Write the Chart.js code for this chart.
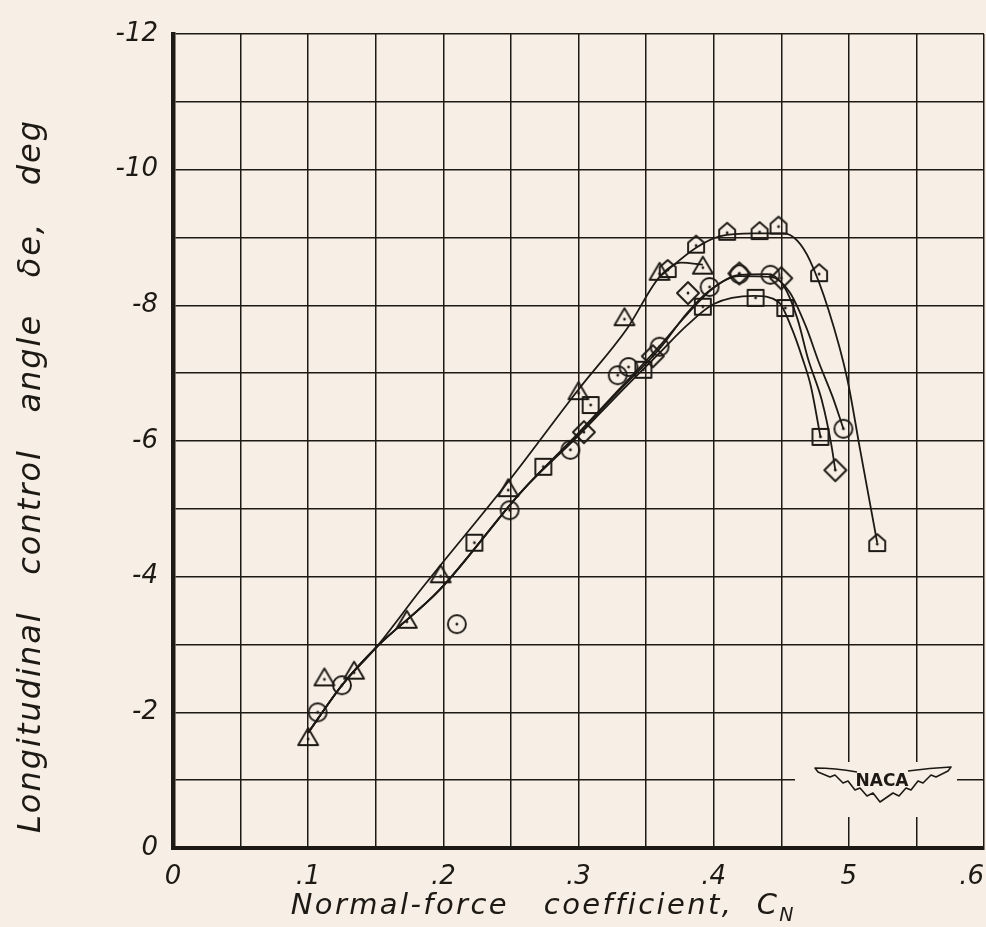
<!DOCTYPE html>
<html>
<head>
<meta charset="utf-8">
<script src="https://cdn.jsdelivr.net/npm/chart.js@4.4.1/dist/chart.umd.min.js"></script>
<style>
  html, body { margin: 0; padding: 0; background: #f7efe5; }
  #chart { display: block; }
</style>
</head>
<body>
<canvas id="chart" width="986" height="927"></canvas>
<script>
// Tick labels (the .5 label is lettered without its point)
const xTickLabels = ['0', '.1', '.2', '.3', '.4', '5', '.6'];
const yTickLabels = ['0', '-2', '-4', '-6', '-8', '-10', '-12'];

// Test points, normal-force coefficient vs control angle
const circleX = [0.107, 0.125, 0.210, 0.249, 0.294, 0.329, 0.337, 0.360, 0.397, 0.419, 0.442, 0.496];
const circleY = [-2.00, -2.40, -3.30, -4.98, -5.87, -6.97, -7.09, -7.39, -8.27, -8.46, -8.45, -6.18];

const squareX = [0.223, 0.274, 0.309, 0.348, 0.392, 0.431, 0.453, 0.479];
const squareY = [-4.50, -5.62, -6.53, -7.05, -7.98, -8.11, -7.96, -6.06];

const diamondX = [0.304, 0.355, 0.381, 0.419, 0.450, 0.490];
const diamondY = [-6.13, -7.25, -8.18, -8.47, -8.40, -5.57];

const triangleX = [0.100, 0.112, 0.134, 0.173, 0.198, 0.248, 0.300, 0.334, 0.360, 0.392];
const triangleY = [-1.62, -2.50, -2.60, -3.35, -4.02, -5.29, -6.72, -7.81, -8.48, -8.57];

const houseX = [0.366, 0.387, 0.410, 0.434, 0.448, 0.478, 0.521];
const houseY = [-8.52, -8.88, -9.07, -9.08, -9.16, -8.46, -4.48];

// Faired curves
const triCurveX = [0.100, 0.125, 0.150, 0.183, 0.248, 0.300, 0.336, 0.360, 0.376, 0.392];
const triCurveY = [-1.70, -2.40, -2.95, -3.80, -5.40, -6.76, -7.66, -8.42, -8.63, -8.60];

const houseCurveX = [0.360, 0.387, 0.405, 0.430, 0.452, 0.462, 0.471, 0.485, 0.499, 0.508, 0.521];
const houseCurveY = [-8.42, -8.85, -9.02, -9.06, -9.06, -8.95, -8.67, -7.93, -6.90, -5.91, -4.50];

const circleCurveX = [0.100, 0.125, 0.150, 0.197, 0.259, 0.300, 0.330, 0.360, 0.380, 0.397, 0.419, 0.442, 0.456, 0.468, 0.478, 0.488, 0.496];
const circleCurveY = [-1.70, -2.40, -2.95, -3.80, -5.28, -6.10, -6.74, -7.36, -7.88, -8.22, -8.43, -8.42, -8.20, -7.70, -7.15, -6.65, -6.18];

const squareCurveX = [0.100, 0.125, 0.150, 0.197, 0.259, 0.300, 0.330, 0.360, 0.380, 0.400, 0.430, 0.448, 0.458, 0.466, 0.472, 0.479];
const squareCurveY = [-1.70, -2.40, -2.95, -3.80, -5.28, -6.08, -6.70, -7.30, -7.70, -8.02, -8.14, -8.05, -7.65, -7.20, -6.80, -6.06];

const diamondCurveX = [0.100, 0.125, 0.150, 0.197, 0.259, 0.300, 0.330, 0.360, 0.380, 0.400, 0.419, 0.440, 0.452, 0.462, 0.470, 0.480, 0.487, 0.490];
const diamondCurveY = [-1.70, -2.40, -2.95, -3.80, -5.28, -6.12, -6.76, -7.40, -7.86, -8.26, -8.45, -8.46, -8.28, -7.80, -7.20, -6.60, -5.95, -5.57];

const INK = '#1d1915';
const PAPER = '#f7efe5';

function pairs(xs, ys) {
    return xs.map((x, i) => ({ x: x, y: ys[i] }));
}

// Open symbol with a centre dot, used as a point style image
function makeMarker(shape) {
    const s = 28, m = s / 2;
    const c = document.createElement('canvas');
    c.width = s; c.height = s;
    const g = c.getContext('2d');
    g.strokeStyle = INK;
    g.fillStyle = INK;
    g.lineWidth = 1.9;
    g.lineJoin = 'round';
    g.beginPath();
    if (shape === 'circle') {
        g.arc(m, m, 9, 0, Math.PI * 2);
    } else if (shape === 'square') {
        g.rect(m - 8, m - 8, 16, 16);
    } else if (shape === 'diamond') {
        g.moveTo(m, m - 11); g.lineTo(m + 11, m); g.lineTo(m, m + 11); g.lineTo(m - 11, m);
        g.closePath();
    } else if (shape === 'triangle') {
        g.moveTo(m, m - 10); g.lineTo(m + 10, m + 7); g.lineTo(m - 10, m + 7);
        g.closePath();
    } else if (shape === 'house') {
        g.moveTo(m - 8, m + 7); g.lineTo(m + 8, m + 7); g.lineTo(m + 8, m - 3);
        g.lineTo(m, m - 10); g.lineTo(m - 8, m - 3);
        g.closePath();
    }
    g.stroke();
    g.beginPath();
    g.arc(m, shape === 'triangle' ? m + 1 : m, 1.4, 0, Math.PI * 2);
    g.fill();
    return c;
}

function curve(xs, ys) {
    return {
        data: pairs(xs, ys),
        showLine: true,
        borderColor: INK,
        borderWidth: 1.8,
        pointRadius: 0,
        cubicInterpolationMode: 'monotone',
        fill: false
    };
}

function points(xs, ys, shape) {
    return {
        data: pairs(xs, ys),
        showLine: false,
        pointStyle: makeMarker(shape),
        pointRadius: 10
    };
}

// Axis titles lettered on the canvas so the subscript can sit low
const axisTitles = {
    id: 'axisTitles',
    afterDraw(chart) {
        const ctx = chart.ctx;
        ctx.save();
        ctx.fillStyle = INK;
        ctx.textBaseline = 'middle';

        ctx.font = 'italic 29px "DejaVu Sans"';
        ctx.letterSpacing = '2.4px';
        ctx.textAlign = 'left';
        const xt = 'Normal-force   coefficient,  C';
        const w = ctx.measureText(xt).width;
        const x0 = 543 - (w + 16) / 2;
        ctx.fillText(xt, x0, 906);
        ctx.font = 'italic 19px "DejaVu Sans"';
        ctx.letterSpacing = '0px';
        ctx.fillText('N', x0 + w, 916);

        ctx.translate(32, 476);
        ctx.rotate(-Math.PI / 2);
        ctx.textAlign = 'center';
        ctx.font = 'italic 32px "DejaVu Sans"';
        ctx.letterSpacing = '2px';
        ctx.fillText('Longitudinal   control   angle   \u03b4e,   deg', 0, 0);
        ctx.restore();
    }
};

// Wing badge in the lower right corner
const nacaBadge = {
    id: 'nacaBadge',
    afterDraw(chart) {
        const ctx = chart.ctx;
        ctx.save();
        ctx.fillStyle = PAPER;
        ctx.fillRect(795, 762, 162, 55);
        ctx.strokeStyle = INK;
        ctx.lineWidth = 1.6;
        ctx.lineJoin = 'round';
        ctx.beginPath();
        ctx.moveTo(857, 772);
        ctx.quadraticCurveTo(835, 768, 815, 768);
        ctx.lineTo(818, 772);
        const left = [[830, 777], [835, 775], [843, 783], [848, 781], [855, 790], [860, 788], [867, 796], [873, 793], [880, 802]];
        left.forEach(p => ctx.lineTo(p[0], p[1]));
        for (let i = left.length - 2; i >= 0; i--) {
            ctx.lineTo(1766 - left[i][0], left[i][1]);
        }
        ctx.lineTo(948, 771);
        ctx.lineTo(951, 767);
        ctx.quadraticCurveTo(930, 768, 908, 771);
        ctx.stroke();
        ctx.font = 'bold 17px "DejaVu Sans"';
        ctx.fillStyle = INK;
        ctx.textAlign = 'center';
        ctx.textBaseline = 'middle';
        ctx.fillText('NACA', 882, 782);
        ctx.restore();
    }
};

new Chart(document.getElementById('chart').getContext('2d'), {
    type: 'scatter',
    data: {
        datasets: [
            points(circleX, circleY, 'circle'),
            points(squareX, squareY, 'square'),
            points(diamondX, diamondY, 'diamond'),
            points(triangleX, triangleY, 'triangle'),
            points(houseX, houseY, 'house'),
            curve(triCurveX, triCurveY),
            curve(houseCurveX, houseCurveY),
            curve(circleCurveX, circleCurveY),
            curve(squareCurveX, squareCurveY),
            curve(diamondCurveX, diamondCurveY)
        ]
    },
    options: {
        responsive: false,
        animation: false,
        layout: { autoPadding: false, padding: { left: 0, right: 2, top: 34, bottom: 0 } },
        plugins: {
            legend: { display: false },
            tooltip: { enabled: false }
        },
        scales: {
            x: {
                type: 'linear',
                min: 0,
                max: 0.6,
                grid: { color: INK, lineWidth: 1.5, drawTicks: false },
                border: { color: INK, width: 4 },
                ticks: {
                    stepSize: 0.05,
                    autoSkip: false,
                    maxRotation: 0,
                    padding: 14,
                    color: INK,
                    font: { family: 'DejaVu Sans', style: 'italic', size: 26 },
                    callback: (v) => {
                        const k = Math.round(v * 20);
                        if (k % 2 !== 0) return '';
                        // last label sits inside the frame edge
                        return k === 12 ? xTickLabels[6] + '   ' : xTickLabels[k / 2];
                    }
                },
                afterFit: (s) => { s.height = 79; s.paddingLeft = 0; s.paddingRight = 0; }
            },
            y: {
                type: 'linear',
                min: -12,
                max: 0,
                reverse: true,
                grid: { color: INK, lineWidth: 1.5, drawTicks: false },
                border: { color: INK, width: 4.5 },
                ticks: {
                    stepSize: 1,
                    autoSkip: false,
                    padding: 15,
                    color: INK,
                    font: { family: 'DejaVu Sans', style: 'italic', size: 26 },
                    callback: (v) => {
                        const k = Math.round(-v);
                        return k % 2 === 0 ? yTickLabels[k / 2] : '';
                    }
                },
                afterFit: (s) => { s.width = 173; s.paddingTop = 0; s.paddingBottom = 0; }
            }
        }
    },
    plugins: [axisTitles, nacaBadge]
});
</script>
</body>
</html>
